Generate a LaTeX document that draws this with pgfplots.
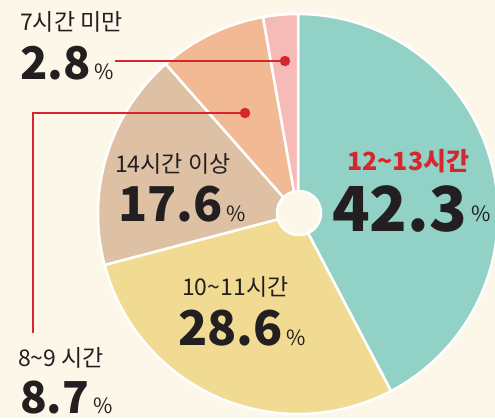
\documentclass[border=0pt]{standalone}
\usepackage{pgfplots}
\pgfplotsset{compat=1.18}
\usepackage{pgfplotstable}
\usepackage{fontspec}
\setmainfont{Noto Sans CJK KR}

\definecolor{bg}{HTML}{FCF7E9}
\definecolor{cteal}{HTML}{92D2C6}
\definecolor{cyellow}{HTML}{F1DB92}
\definecolor{ctan}{HTML}{DEC1A5}
\definecolor{cpeach}{HTML}{F2BA94}
\definecolor{cpink}{HTML}{F6BAB7}
\definecolor{cred}{HTML}{D7262E}
\definecolor{ink}{HTML}{231F20}

% share of each sleep-time group, clockwise from the top
\pgfplotstableread{
val col
42.3 cteal
28.6 cyellow
17.6 ctan
8.7 cpeach
2.8 cpink
}\piedata

\newcommand{\lab}[1]{\fontsize{23}{25}\selectfont #1}
\newcommand{\pct}{\hspace{4pt}{\mdseries\fontsize{21}{22}\selectfont\%}}

\begin{document}
\begin{tikzpicture}
\begin{axis}[
    x=1pt, y=1pt,
    xmin=0, xmax=495, ymin=0, ymax=418,
    axis line style={draw=none},
    ticks=none,
    axis background/.style={fill=bg},
]
\def\cum{0}
\pgfplotsforeachungrouped \i in {0,1,2,3,4}{
    \pgfplotstablegetelem{\i}{val}\of\piedata
    \let\v\pgfplotsretval
    \pgfplotstablegetelem{\i}{col}\of\piedata
    \let\col\pgfplotsretval
    \pgfmathsetmacro\aS{90-3.6*\cum}
    \pgfmathsetmacro\cum{\cum+\v}
    \pgfmathsetmacro\aE{90-3.6*\cum}
    \edef\temp{\noexpand\addplot[fill=\col, draw=white, line width=2.5pt,
        line join=round, domain=\aE:\aS, samples=90, variable=\noexpand\t]
        ({298+200*cos(\noexpand\t)},{204+200*sin(\noexpand\t)})
        -- (axis cs:298,204) -- cycle;}
    \temp
}
% centre hole
\addplot[fill=bg, draw=white, line width=2.5pt, domain=0:360, samples=90]
    ({299+22*cos(x)},{205+22*sin(x)});

% leader lines
\addplot[cred, line width=2pt] coordinates {(115,357) (285,357)};
\addplot[cred, line width=2pt] coordinates {(245,305) (33,305) (33,85)};
\addplot[only marks, mark=*, mark size=5pt, cred] coordinates {(285,357) (245,305)};

% labels
\node[anchor=base west, inner sep=0, ink] at (axis cs:20,387) {\lab{7시간 미만}};
\node[anchor=base west, inner sep=0, ink] at (axis cs:20,338)
    {\fontsize{45}{50}\selectfont\bfseries 2.8\pct};
\node[anchor=base west, inner sep=0, ink] at (axis cs:18,52) {\lab{8\textasciitilde 9 시간}};
\node[anchor=base west, inner sep=0, ink] at (axis cs:20,5)
    {\fontsize{44}{50}\selectfont\bfseries 8.7\pct};
\node[anchor=base west, inner sep=0, ink] at (axis cs:115,245) {\lab{14시간 이상}};
\node[anchor=base west, inner sep=0, ink] at (axis cs:118,196)
    {\fontsize{48}{52}\selectfont\bfseries 17.6\pct};
\node[anchor=base west, inner sep=0, ink] at (axis cs:182,123) {\lab{10\textasciitilde 11시간}};
\node[anchor=base west, inner sep=0, ink] at (axis cs:178,73)
    {\fontsize{48}{52}\selectfont\bfseries 28.6\pct};
\node[anchor=base west, inner sep=0, cred] at (axis cs:347,247)
    {\fontsize{25}{27}\selectfont\bfseries 12\textasciitilde 13시간};
\node[anchor=base west, inner sep=0, ink] at (axis cs:332,186)
    {\fontsize{62}{64}\selectfont\bfseries 42.3\raisebox{10pt}{\pct}};
\end{axis}
\end{tikzpicture}
\end{document}
